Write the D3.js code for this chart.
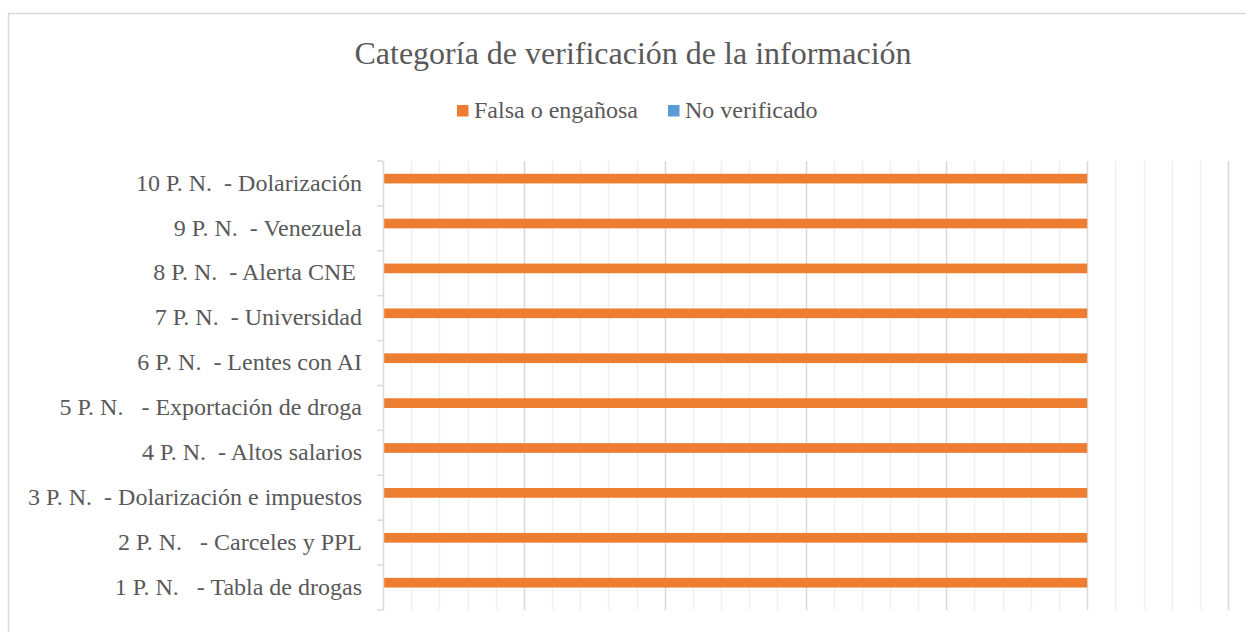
<!DOCTYPE html>
<html><head><meta charset="utf-8">
<script src="https://cdn.jsdelivr.net/npm/d3@7"></script>
<style>
body{margin:0;background:#fff;}
svg{display:block;}
</style></head>
<body><svg id="c" width="1246" height="632"></svg>
<script>
const title = "Categoría de verificación de la información";
const categories = ["1 P. N.   - Tabla de drogas","2 P. N.   - Carceles y PPL","3 P. N.  - Dolarización e impuestos","4 P. N.  - Altos salarios","5 P. N.   - Exportación de droga","6 P. N.  - Lentes con AI","7 P. N.  - Universidad","8 P. N.  - Alerta CNE ","9 P. N.  - Venezuela","10 P. N.  - Dolarización"];
const seriesNames = ["Falsa o engañosa","No verificado"];
const seriesColors = ["#ED7D31","#5B9BD5"];
const falsa = [1,1,1,1,1,1,1,1,1,1];
const noVerificado = [0,0,0,0,0,0,0,0,0,0];
const xMax = 1.2, majorStep = 0.2, minorStep = 0.04;

const FONT = "Liberation Serif";
const svg = d3.select("#c");
svg.append("rect").attr("x",8.5).attr("y",13.5).attr("width",1260).attr("height",640)
  .attr("fill","none").attr("stroke","#d9d9d9").attr("stroke-width",1.5);

const L=383, R=1228, T=161, B=610;
const x = d3.scaleLinear().domain([0,xMax]).range([L,R]);
const y = d3.scaleBand().domain(categories.slice().reverse()).range([T,B]);

const minorTicks = d3.range(0, xMax+1e-9, minorStep).filter(v=>Math.abs(v/majorStep-Math.round(v/majorStep))>1e-6);
svg.append("g").selectAll("line").data(minorTicks).join("line")
  .attr("x1",d=>Math.round(x(d))+0.5).attr("x2",d=>Math.round(x(d))+0.5).attr("y1",T).attr("y2",B)
  .attr("stroke","#efefef").attr("stroke-width",1.5);
const majorTicks = d3.range(majorStep, xMax+1e-9, majorStep);
svg.append("g").selectAll("line").data(majorTicks).join("line")
  .attr("x1",d=>Math.round(x(d))+0.5).attr("x2",d=>Math.round(x(d))+0.5).attr("y1",T).attr("y2",B)
  .attr("stroke","#d9d9d9").attr("stroke-width",1.5);

const barH = 9.7;
const data = categories.map((c,i)=>({c, v:[falsa[i], noVerificado[i]]}));
seriesNames.forEach((s,si)=>{
  svg.append("g").selectAll("rect").data(data).join("rect")
    .attr("x",x(0)).attr("width",d=>x(d.v[si])-x(0))
    .attr("y",d=>y(d.c)+y.bandwidth()/2 - barH + si*barH).attr("height",barH)
    .attr("fill",seriesColors[si]);
});

const yAxis = d3.axisLeft(y).tickSize(0).tickPadding(21);
const ga = svg.append("g").attr("transform",`translate(${L},0)`).call(yAxis);
ga.select(".domain").remove();
ga.attr("font-family",FONT).attr("font-size",24);
ga.selectAll("text").attr("fill","#595959").style("white-space","pre").attr("dy","0.3em");
svg.append("line").attr("x1",L+0.5).attr("x2",L+0.5).attr("y1",T).attr("y2",B).attr("stroke","#d9d9d9").attr("stroke-width",1.5);
const boundaries = d3.range(0,categories.length+1).map(i=>T+i*y.step());
svg.append("g").selectAll("line").data(boundaries).join("line")
  .attr("x1",L-6).attr("x2",L).attr("y1",d=>d).attr("y2",d=>d)
  .attr("stroke","#d9d9d9").attr("stroke-width",1.5);

svg.append("text").attr("x",633).attr("y",64).attr("text-anchor","middle")
  .attr("font-family",FONT).attr("font-size",32).attr("fill","#595959").text(title);

const leg = [{x:457},{x:668}];
seriesNames.forEach((s,i)=>{
  svg.append("rect").attr("x",leg[i].x).attr("y",105).attr("width",11.5).attr("height",11.5).attr("fill",seriesColors[i]);
  svg.append("text").attr("x",leg[i].x+17).attr("y",118).attr("font-family",FONT).attr("font-size",24).attr("fill","#595959").text(s);
});
</script></body></html>
